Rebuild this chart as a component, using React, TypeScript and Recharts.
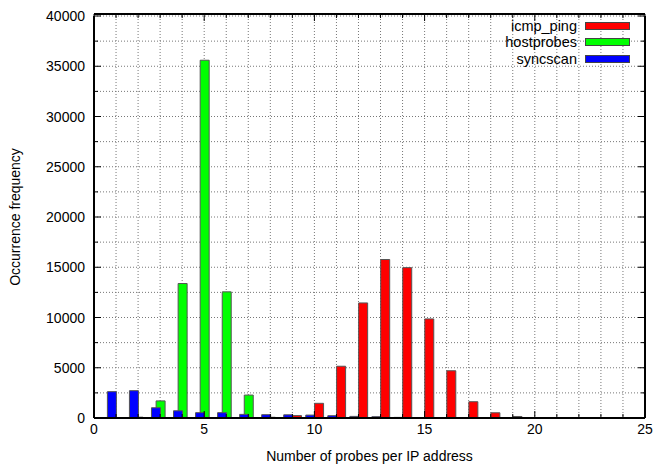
import React from 'react';
import { BarChart, Bar, XAxis, YAxis, CartesianGrid, Legend } from 'recharts';

// number of probes per IP address (x positions)
const probes = [1, 2, 3, 4, 5, 6, 7, 8, 9, 10, 11, 12, 13, 14, 15, 16, 17, 18, 19, 20];

const icmpPing = [0, 0, 0, 0, 0, 0, 0, 30, 240, 1460, 5150, 11450, 15770, 14960, 9860, 4700, 1620, 520, 150, 30];
const hostprobes = [0, 80, 1700, 13380, 35600, 12550, 2280, 70, 40, 30, 20, 10, 10, 10, 10, 0, 0, 0, 0, 0];
const syncscan = [2620, 2720, 1020, 720, 530, 530, 360, 330, 320, 290, 230, 160, 130, 60, 40, 30, 20, 10, 10, 0];

const seriesNames = ['icmp_ping', 'hostprobes', 'syncscan'];

const xTicks = [0, 1, 2, 3, 4, 5, 6, 7, 8, 9, 10, 11, 12, 13, 14, 15, 16, 17, 18, 19, 20, 21, 22, 23, 24, 25];
const yTicks = [0, 2500, 5000, 7500, 10000, 12500, 15000, 17500, 20000, 22500, 25000, 27500, 30000, 32500, 35000, 37500, 40000];

const data = probes.map((x, i) => ({
  x,
  icmp: icmpPing[i],
  host: hostprobes[i],
  sync: syncscan[i],
}));

const BottomTick = (props: any) => {
  const { x, y, payload } = props;
  const major = payload.value % 5 === 0;
  return (
    <g>
      <line x1={x} x2={x} y1={y} y2={y - (major ? 7 : 4)} stroke="#000" />
      {major && (
        <text x={x} y={y + 16} textAnchor="middle" fontSize={14} fill="#000">
          {payload.value}
        </text>
      )}
    </g>
  );
};

const TopTick = (props: any) => {
  const { x, y, payload } = props;
  const major = payload.value % 5 === 0;
  return <line x1={x} x2={x} y1={y} y2={y + (major ? 7 : 4)} stroke="#000" />;
};

const LeftTick = (props: any) => {
  const { x, y, payload } = props;
  const major = payload.value % 5000 === 0;
  return (
    <g>
      <line x1={x} x2={x + (major ? 7 : 4)} y1={y} y2={y} stroke="#000" />
      {major && (
        <text x={x - 9} y={y + 5} textAnchor="end" fontSize={14} fill="#000">
          {payload.value}
        </text>
      )}
    </g>
  );
};

const RightTick = (props: any) => {
  const { x, y, payload } = props;
  const major = payload.value % 5000 === 0;
  return <line x1={x} x2={x - (major ? 7 : 4)} y1={y} y2={y} stroke="#000" />;
};

const LegendBox = (props: any) => {
  const items = [...(props.payload || [])].sort(
    (a: any, b: any) => seriesNames.indexOf(a.value) - seriesNames.indexOf(b.value)
  );
  return (
    <div style={{ fontSize: 14.5, color: '#000' }}>
      {items.map((e: any) => (
        <div
          key={e.value}
          style={{ display: 'flex', justifyContent: 'flex-end', alignItems: 'center', height: 16.3 }}
        >
          <span>{e.value}</span>
          <span
            style={{
              display: 'inline-block',
              width: 43,
              height: 6,
              background: e.color,
              border: '1px solid #444',
              marginLeft: 8,
            }}
          />
        </div>
      ))}
    </div>
  );
};

const App: React.FC = () => {
  return (
    <div
      style={{
        position: 'absolute',
        left: 0,
        top: 0,
        width: 654,
        height: 465,
        background: '#fff',
        fontFamily: '"Liberation Sans", Arial, sans-serif',
      }}
    >
      <BarChart width={654} height={465} data={data} margin={{ top: 13, right: 8, bottom: 0, left: 0 }}>
        <CartesianGrid stroke="#777" strokeDasharray="1 2" />
        <XAxis
          dataKey="x"
          type="number"
          domain={[0, 25]}
          allowDataOverflow
          ticks={xTicks}
          interval={0}
          tickSize={0}
          tickMargin={0}
          tick={<BottomTick />}
          height={47}
          axisLine={{ stroke: '#000', strokeWidth: 2 }}
          label={{ value: 'Number of probes per IP address', position: 'insideBottom', offset: 4, fontSize: 14, fill: '#000' }}
        />
        <XAxis
          xAxisId="top"
          orientation="top"
          dataKey="x"
          type="number"
          domain={[0, 25]}
          allowDataOverflow
          ticks={xTicks}
          interval={0}
          tickSize={0}
          tickMargin={0}
          tick={<TopTick />}
          height={1}
          axisLine={{ stroke: '#000', strokeWidth: 2 }}
        />
        {/* shifted scales so each series sits beside the others, gnuplot style */}
        <XAxis
          xAxisId="icmp"
          orientation="top"
          dataKey="x"
          type="number"
          domain={[-0.19, 24.81]}
          allowDataOverflow
          tick={false}
          axisLine={false}
          height={1}
        />
        <XAxis
          xAxisId="sync"
          orientation="top"
          dataKey="x"
          type="number"
          domain={[0.21, 25.21]}
          allowDataOverflow
          tick={false}
          axisLine={false}
          height={1}
        />
        <YAxis
          type="number"
          domain={[0, 40000]}
          allowDataOverflow
          ticks={yTicks}
          interval={0}
          tickSize={0}
          tickMargin={0}
          tick={<LeftTick />}
          width={94}
          axisLine={{ stroke: '#000', strokeWidth: 2 }}
          label={{
            value: 'Occurrence frequency',
            angle: -90,
            position: 'insideLeft',
            offset: 15,
            fontSize: 14,
            fill: '#000',
            style: { textAnchor: 'middle' },
          }}
        />
        <YAxis
          yAxisId="right"
          orientation="right"
          type="number"
          domain={[0, 40000]}
          allowDataOverflow
          ticks={yTicks}
          interval={0}
          tickSize={0}
          tickMargin={0}
          tick={<RightTick />}
          width={1}
          axisLine={{ stroke: '#000', strokeWidth: 2 }}
        />
        <Legend
          layout="vertical"
          align="center"
          verticalAlign="middle"
          content={<LegendBox />}
          wrapperStyle={{ top: 18, left: 470, width: 160, height: 'auto' }}
        />
        <Bar xAxisId="icmp" dataKey="icmp" name="icmp_ping" fill="#ff0000" stroke="#555" barSize={9} isAnimationActive={false} />
        <Bar dataKey="host" name="hostprobes" fill="#00ff00" stroke="#555" barSize={9} isAnimationActive={false} />
        <Bar xAxisId="sync" dataKey="sync" name="syncscan" fill="#0000ff" stroke="#555" barSize={9} isAnimationActive={false} />
      </BarChart>
    </div>
  );
};

export default App;
